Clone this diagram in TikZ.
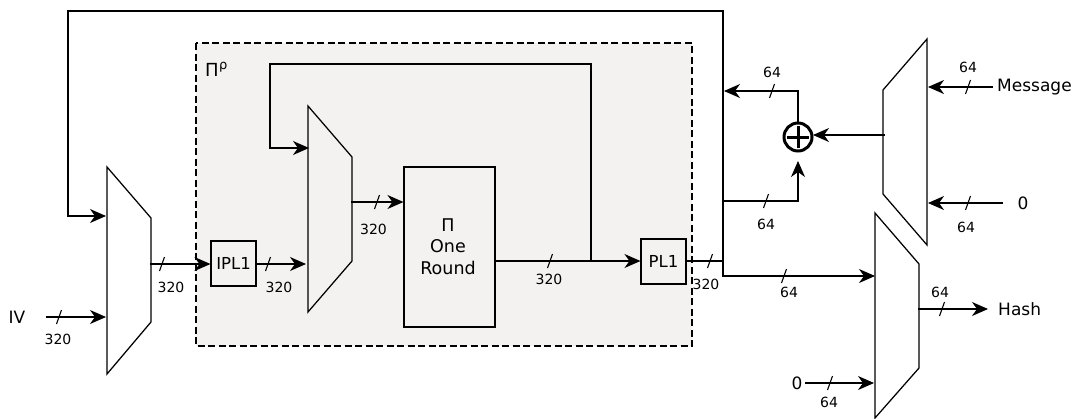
\documentclass[tikz,border=0pt]{standalone}
\usepackage{fontspec}
\setmainfont{DejaVu Sans}
\usetikzlibrary{arrows.meta,calc}
\definecolor{regionfill}{HTML}{F3F2F1}
\tikzset{
  x=1pt,y=-1pt,
  wire/.style={draw=black,line width=1.1pt},
  arr/.style={wire,-{Stealth[length=16pt,width=14pt,inset=5pt]}},
  mux/.style={draw=black,line width=1.25pt,line join=miter},
  boxn/.style={draw=black,line width=1.1pt,minimum width=45pt,minimum height=45pt,inner sep=0pt,font=\fontsize{16.5}{19}\selectfont},
  slash/.style={draw=black,line width=1.1pt},
  lab/.style={inner sep=0pt,font=\fontsize{14}{16}\selectfont},
  txt/.style={inner sep=0pt,font=\fontsize{17}{20}\selectfont},
}
\newcommand{\tick}[2]{\draw[slash] (#1-2.5,#2+7) -- (#1+2.5,#2-7);}
\begin{document}
\begin{tikzpicture}
\useasboundingbox (0,0) rectangle (1075,418);
% region
\draw[fill=regionfill,draw=black,line width=1.1pt,dash pattern=on 7pt off 3.5pt] (196,43) rectangle (692,346);
\node[txt,anchor=base west,font=\fontsize{18}{20}\selectfont] (pi) at (205,76) {Π};
\node[inner sep=0pt,anchor=base west,font=\fontsize{13}{15}\selectfont] (rho) at (219,69) {ρ};
% muxes
\draw[mux] (107,167) -- (151,218) -- (151,322) -- (107,374) -- cycle;
\draw[mux] (308,106) -- (352,157) -- (352,261) -- (308,312) -- cycle;
\draw[mux] (927,39) -- (883,90) -- (883,194) -- (927,245) -- cycle;
\draw[mux] (875,213) -- (919,264) -- (919,368) -- (875,418) -- cycle;
% boxes
\node[boxn,anchor=center] (ipl) at (233.5,263.5) {IPL1};
\node[boxn,anchor=center] (pl) at (663.5,261.5) {PL1};
\node[draw=black,line width=1.1pt,minimum width=91pt,minimum height=160pt,inner sep=0pt] (round) at (449.5,247) {};
\node[inner sep=0pt,font=\fontsize{17.5}{21.5}\selectfont,align=center] (roundtext) at (448,246.5) {Π\\One\\Round};
% xor
\node[circle,draw=black,line width=3pt,minimum size=28pt,inner sep=0pt] (xor) at (798,137) {};
\draw[line width=3pt] (787,137) -- (809,137) (798,126) -- (798,148);
\coordinate (xorE) at (813,135);
\coordinate (xorS) at (798,161);
% feedback top
\draw[arr] (723,261) -- (723,11) -- (68,11) -- (68,216) -- (106,216);
% IV
\node[txt,anchor=center] (iv) at (17,317) {IV};
\draw[arr] (46,317) -- (106,317); \tick{59}{317}
\node[lab] (l1) at (58,339) {320};
% mux1 -> ipl
\draw[arr] (150,264) -- (ipl.west |- 0,264); \tick{162}{264}
\node[lab] (l2) at (171,287) {320};
% ipl -> mux2
\draw[arr] (ipl.east |- 0,264) -- (306,264); \tick{268}{264}
\node[lab] (l3) at (279,287) {320};
% mux2 -> round
\draw[arr] (351,202) -- (round.west |- 0,202); \tick{377}{202}
\node[lab] (l4) at (373.5,229) {320};
% inner feedback
\draw[arr] (591,261) -- (591,64) -- (270,64) -- (270,148) -- (309,148);
\draw[line width=2pt] (round.east |- 0,261) -- (591,261);
% round -> PL1
\draw[arr] (591,261) -- (pl.west |- 0,261); \tick{550}{261}
\node[lab] (l5) at (549,279) {320};
% PL1 out
\draw[wire] (pl.east |- 0,261) -- (723,261); \tick{710}{261}
\node[lab] (l6) at (706,284) {320};
% to hash mux
\draw[arr] (723,261) -- (723,276) -- (875,276); \tick{784}{276}
\node[lab] (l7) at (789,292) {64};
% bus to xor
\draw[arr] (723,201) -- (798,201) -- (xorS); \tick{766}{201}
\node[lab] (l8) at (766,224) {64};
% xor to bus
\draw[arr] (xor.north) -- (798,91) -- (724,91); \tick{772}{91}
\node[lab] (l9) at (772,72) {64};
% mux3 -> xor
\draw[arr] (885,135) -- (xorE);
% message
\node[txt,anchor=west] (msg) at (997,87) {Message};
\draw[arr] ([xshift=-4pt]msg.west) -- (928,87); \tick{968}{87}
\node[lab] (l10) at (968,67) {64};
\node[txt,anchor=center] (z1) at (1023,203) {0};
\draw[arr] (z1.west -| 1003,0) -- (928,203); \tick{968}{203}
\node[lab] (l11) at (966,227) {64};
% hash
\node[txt,anchor=west] (hash) at (998,309) {Hash};
\draw[arr] (918,309) -- (988,309); \tick{942}{309}
\node[lab] (l12) at (940,292) {64};
\node[txt,anchor=center] (z2) at (797,383) {0};
\draw[arr] (805,383) -- (874,383); \tick{830}{383}
\node[lab] (l13) at (829,402) {64};
\end{tikzpicture}
\end{document}
